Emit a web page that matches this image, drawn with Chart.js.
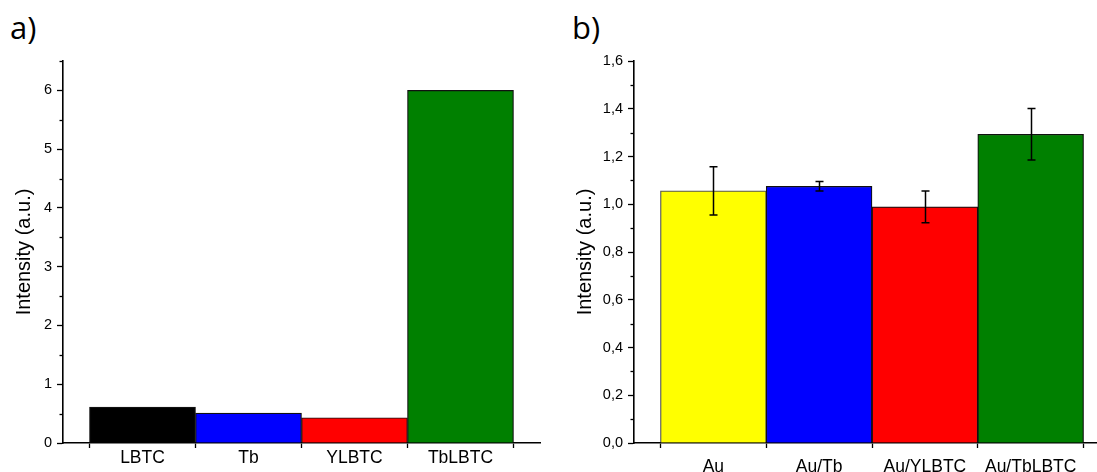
<!DOCTYPE html>
<html>
<head>
<meta charset="utf-8">
<script src="https://cdn.jsdelivr.net/npm/chart.js@4.4.1/dist/chart.umd.min.js"></script>
<style>
  html, body { margin: 0; padding: 0; background: #fff; overflow: hidden; width: 1097px; height: 472px; }
  .panel { position: absolute; top: 0; }
  .tag { position: absolute; font-family: "Open Sans", "Noto Sans", sans-serif; font-size: 31px; line-height: 31px; color: #000; }
</style>
</head>
<body>
<div class="tag" style="left:10px; top:12px;">a)</div>
<div class="tag" style="left:572px; top:12px;">b)</div>
<canvas id="chartA" class="panel" width="560" height="472" style="left:0px;"></canvas>
<canvas id="chartB" class="panel" width="560" height="472" style="left:560px;"></canvas>
<script>
// Panel a: emission intensity of the pure complexes
const samplesA = ['LBTC', 'Tb', 'YLBTC', 'TbLBTC'];
const intensityA = [0.61, 0.51, 0.43, 6.0];

// Panel b: intensity on gold substrates, mean and standard deviation
const samplesB = ['Au', 'Au/Tb', 'Au/YLBTC', 'Au/TbLBTC'];
const intensityB = [1.056, 1.075, 0.989, 1.293];
const errorB = [0.101, 0.020, 0.067, 0.108];

const axisTitle = 'Intensity (a.u.)';

// bar fills
const fillA = ['#000000', '#0000ff', '#ff0000', '#008000'];
const fillB = ['#ffff00', '#0000ff', '#ff0000', '#008000'];
const edgeB = ['#555555', '#111111', '#111111', '#111111'];

const FONT = '"Liberation Sans", Arial, sans-serif';

// short unlabeled ticks between the labeled ones
const minorTicks = {
  id: 'minorTicks',
  afterDraw(chart, args, opts) {
    const s = chart.scales.y;
    const ctx = chart.ctx;
    ctx.save();
    ctx.strokeStyle = '#000';
    ctx.lineWidth = 1.3;
    s.ticks.forEach(t => {
      if (!opts.isMajor(t.value)) {
        const y = Math.round(s.getPixelForValue(t.value)) + 0.5;
        ctx.beginPath();
        ctx.moveTo(s.right - opts.len, y);
        ctx.lineTo(s.right, y);
        ctx.stroke();
      }
    });
    ctx.restore();
  }
};

// vertical error bars with caps
const errorBars = {
  id: 'errorBars',
  afterDatasetsDraw(chart, args, opts) {
    if (!opts.errors) return;
    const meta = chart.getDatasetMeta(0);
    const ys = chart.scales.y;
    const ctx = chart.ctx;
    ctx.save();
    ctx.strokeStyle = '#000';
    ctx.lineWidth = 1.5;
    meta.data.forEach((bar, i) => {
      const v = chart.data.datasets[0].data[i].y;
      const e = opts.errors[i];
      const x = Math.round(bar.x) + 0.5;
      const yT = ys.getPixelForValue(v + e);
      const yB = ys.getPixelForValue(v - e);
      const c = opts.cap;
      ctx.beginPath();
      ctx.moveTo(x, yT); ctx.lineTo(x, yB);
      ctx.moveTo(x - c, yT); ctx.lineTo(x + c, yT);
      ctx.moveTo(x - c, yB); ctx.lineTo(x + c, yB);
      ctx.stroke();
    });
    ctx.restore();
  }
};

function buildPanel(canvasId, cfg) {
  const points = cfg.values.map((v, i) => ({ x: i + 1, y: v }));
  return new Chart(document.getElementById(canvasId), {
    type: 'bar',
    data: {
      datasets: [{
        data: points,
        backgroundColor: cfg.fill,
        borderColor: cfg.edge,
        borderWidth: 1.2,
        barPercentage: 1,
        categoryPercentage: 1
      }]
    },
    plugins: [minorTicks, errorBars],
    options: {
      responsive: false,
      animation: false,
      events: [],
      layout: { padding: cfg.padding },
      plugins: {
        legend: { display: false },
        tooltip: { enabled: false },
        minorTicks: { isMajor: cfg.isMajor, len: 3.5 },
        errorBars: { errors: cfg.errors, cap: 4 }
      },
      scales: {
        x: {
          type: 'linear',
          min: 0.25,
          max: cfg.values.length + 0.75,
          offset: false,
          afterBuildTicks: s => { s.ticks = cfg.labels.map((_, i) => ({ value: i + 1 })); },
          afterFit: s => { s.height = cfg.xHeight; },
          border: { display: true, color: '#000', width: 1.6 },
          grid: { drawOnChartArea: false, drawTicks: true, tickLength: 5, tickColor: '#000', tickWidth: 1.3 },
          ticks: {
            autoSkip: false,
            maxRotation: 0,
            padding: cfg.xPad,
            color: '#000',
            font: { family: FONT, size: 17.5 },
            callback: v => cfg.labels[Math.round(v) - 1] || ''
          }
        },
        y: {
          min: 0,
          max: cfg.yMax,
          afterFit: s => { s.width = cfg.yWidth; },
          border: { display: true, color: '#000', width: 1.6 },
          grid: {
            drawOnChartArea: false,
            drawTicks: true,
            tickLength: 6,
            tickWidth: 1.3,
            tickColor: c => cfg.isMajor(c.tick.value) ? '#000' : 'rgba(0,0,0,0)'
          },
          ticks: {
            stepSize: cfg.step,
            autoSkip: false,
            padding: 5,
            color: '#000',
            font: { family: FONT, size: 14.5 },
            callback: v => cfg.isMajor(v) ? cfg.format(v) : ''
          },
          title: {
            display: true,
            text: axisTitle,
            color: '#000',
            font: { family: FONT, size: 20 },
            padding: { top: cfg.titlePad, bottom: 0 }
          }
        }
      }
    }
  });
}

buildPanel('chartA', {
  values: intensityA,
  labels: samplesA,
  fill: fillA,
  edge: '#111111',
  errors: null,
  yMax: 6.5,
  step: 0.5,
  isMajor: v => Math.abs(v - Math.round(v)) < 1e-6,
  format: v => String(Math.round(v)),
  padding: { left: 0, top: 61, right: 20, bottom: 0 },
  yWidth: 63,
  xHeight: 29,
  xPad: 0,
  titlePad: 12
});

buildPanel('chartB', {
  values: intensityB,
  labels: samplesB,
  fill: fillB,
  edge: edgeB,
  errors: errorB,
  yMax: 1.6,
  step: 0.1,
  isMajor: v => Math.round(v * 10) % 2 === 0,
  format: v => v.toFixed(1).replace('.', ','),
  padding: { left: 0, top: 61, right: 10, bottom: 0 },
  yWidth: 74,
  xHeight: 29,
  xPad: 9,
  titlePad: 13
});
</script>
</body>
</html>
